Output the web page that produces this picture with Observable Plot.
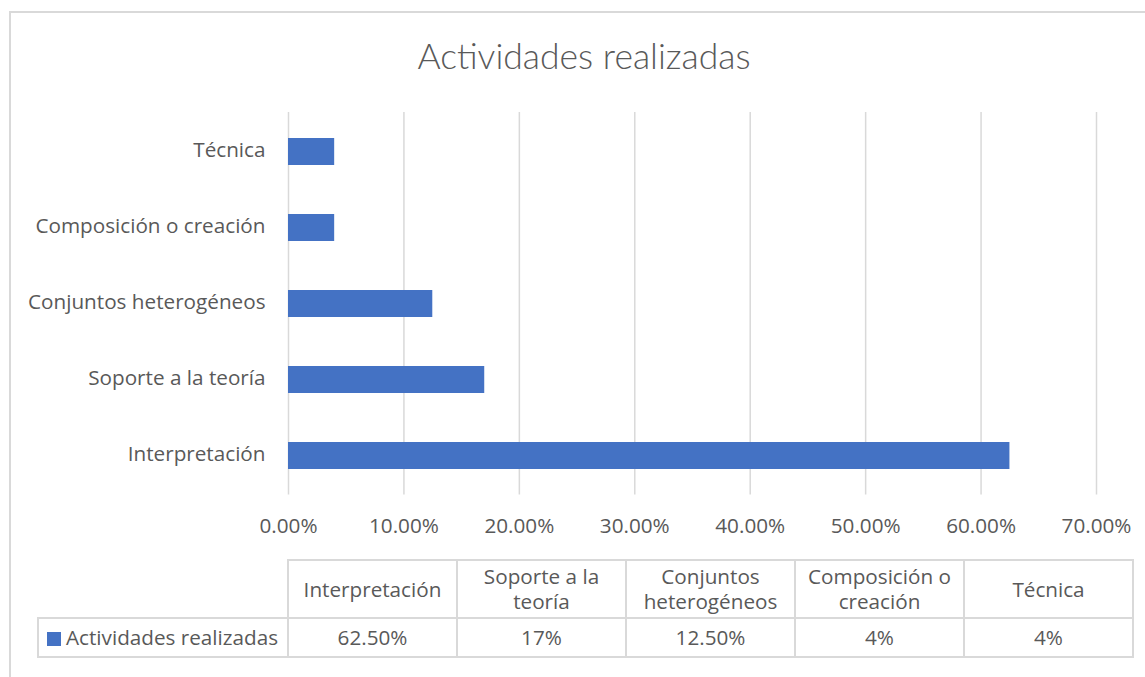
<!DOCTYPE html>
<html>
<head>
<meta charset="utf-8">
<script src="https://cdn.jsdelivr.net/npm/d3@7"></script>
<script src="https://cdn.jsdelivr.net/npm/@observablehq/plot@0.6"></script>
<style>
  body { margin: 0; background: #fff; }
  #root { position: relative; width: 1145px; height: 677px; overflow: hidden;
          font-family: "Open Sans", sans-serif; color: #595959; }
  #frame { position: absolute; left: 9px; top: 11px; width: 1200px; height: 700px;
           border-left: 2px solid #d9d9d9; border-top: 2px solid #d9d9d9; }
  #title { position: absolute; left: 9px; width: 1150px; top: 33px; text-align: center;
           font-family: Lato, sans-serif; font-size: 35.5px; font-weight: 300; line-height: 46px; }
  #chart { position: absolute; left: 0; top: 90px; }
  #tbl { position: absolute; left: 37px; top: 559px; border-collapse: collapse; table-layout: fixed; }
  #tbl td { border: 2px solid #d9d9d9; text-align: center; font-size: 20.7px; padding: 0 1px;
            white-space: pre-line; line-height: 25px; }
  #tbl td.empty { border-top: none; border-left: none; }
  .sw { display: inline-block; width: 14px; height: 14px; background: #4472C4; margin-right: 5px;
        vertical-align: -1px; }
</style>
</head>
<body>
<div id="root">
  <div id="frame"></div>
  <div id="title"></div>
  <div id="chart"></div>
  <table id="tbl"></table>
</div>
<script>
const chartTitle = "Actividades realizadas";
const seriesName = "Actividades realizadas";
const categories = ["Interpretación", "Soporte a la teoría", "Conjuntos heterogéneos", "Composición o creación", "Técnica"];
const values = [0.625, 0.17, 0.125, 0.04, 0.04];
const tableHeaders = ["Interpretación", "Soporte a la\nteoría", "Conjuntos\nheterogéneos", "Composición o\ncreación", "Técnica"];
const tableValues = ["62.50%", "17%", "12.50%", "4%", "4%"];
const xTicks = [0, 0.1, 0.2, 0.3, 0.4, 0.5, 0.6, 0.7];
const barColor = "#4472C4";

document.getElementById("title").textContent = chartTitle;

const data = categories.map((c, i) => ({category: c, value: values[i]}));

const plot = Plot.plot({
  width: 1145,
  height: 460,
  marginLeft: 288,
  marginRight: 49,
  marginTop: 22,
  marginBottom: 55.5,
  style: {fontSize: "20.7px", fontFamily: "'Open Sans', sans-serif", color: "#595959", background: "transparent"},
  x: {domain: [0, 0.7], ticks: xTicks, label: null},
  y: {domain: categories.slice().reverse(), paddingInner: 0.647, paddingOuter: 0.3235, label: null},
  marks: [
    Plot.ruleX(xTicks, {stroke: "#d9d9d9", strokeWidth: 1.5}),
    Plot.barX(data, {x: "value", y: "category", fill: barColor}),
    Plot.axisX({ticks: xTicks, tickFormat: d => (d * 100).toFixed(2) + "%", tickSize: 0, tickPadding: 23, label: null}),
    Plot.axisY({tickSize: 0, tickPadding: 23, dy: -1.5, label: null})
  ]
});
document.getElementById("chart").appendChild(plot);

const tbl = d3.select("#tbl");
const cg = tbl.append("colgroup");
cg.append("col").style("width", "250px");
categories.forEach(() => cg.append("col").style("width", "169px"));
const r1 = tbl.append("tr").style("height", "58px");
r1.append("td").attr("class", "empty");
tableHeaders.forEach(h => r1.append("td").text(h));
const r2 = tbl.append("tr").style("height", "39px");
const lc = r2.append("td").style("text-align", "left").style("padding-left", "8px");
lc.append("span").attr("class", "sw");
lc.append("span").text(seriesName);
tableValues.forEach(v => r2.append("td").text(v));
</script>
</body>
</html>
